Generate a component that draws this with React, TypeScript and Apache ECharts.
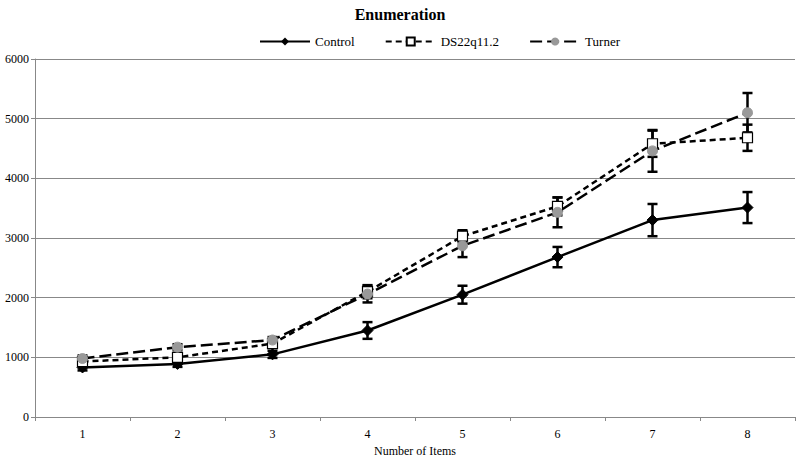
import React, { useEffect, useRef } from "react";
import * as echarts from "echarts";

const categories = ["1", "2", "3", "4", "5", "6", "7", "8"];
const controlValues = [830, 890, 1050, 1450, 2050, 2680, 3300, 3510];
const controlErr = [50, 50, 60, 140, 150, 170, 270, 260];
const dsValues = [930, 1000, 1230, 2100, 3030, 3530, 4580, 4680];
const dsErr = [50, 50, 60, 110, 100, 150, 220, 220];
const turnerValues = [980, 1170, 1290, 2060, 2870, 3430, 4460, 5100];
const turnerErr = [50, 50, 50, 140, 190, 250, 350, 330];

const FONT = "Liberation Serif";

function errorSeries(name: string, values: number[], errs: number[]) {
  return {
    type: "custom",
    name: name + "-err",
    z: 3,
    data: values.map((v, i) => [i, v - errs[i], v + errs[i]]),
    renderItem: (params: any, api: any) => {
      const x = api.value(0);
      const lo = api.coord([x, api.value(1)]);
      const hi = api.coord([x, api.value(2)]);
      const hw = 5;
      const style = { stroke: "#000", lineWidth: 2.5 };
      return {
        type: "group",
        children: [
          { type: "line", shape: { x1: lo[0], y1: lo[1], x2: hi[0], y2: hi[1] }, style },
          { type: "line", shape: { x1: lo[0] - hw, y1: lo[1], x2: lo[0] + hw, y2: lo[1] }, style },
          { type: "line", shape: { x1: hi[0] - hw, y1: hi[1], x2: hi[0] + hw, y2: hi[1] }, style },
        ],
      };
    },
    encode: { x: 0, y: [1, 2] },
    silent: true,
  };
}

export default function App() {
  const ref = useRef<HTMLDivElement>(null);
  useEffect(() => {
    document.body.style.margin = "0";
    if (!ref.current) return;
    const chart = echarts.init(ref.current, null, { renderer: "svg" });
    chart.setOption({
      animation: false,
      backgroundColor: "#fff",
      textStyle: { fontFamily: FONT },
      title: {
        text: "Enumeration",
        left: "center",
        top: 1,
        textStyle: { fontFamily: FONT, fontSize: 16, fontWeight: "bold", color: "#000" },
      },
      legend: {
        top: 30,
        left: 254,
        itemWidth: 50,
        itemHeight: 10,
        itemGap: 30,
        textStyle: { fontFamily: FONT, fontSize: 13, color: "#000" },
        data: ["Control", "DS22q11.2", "Turner"],
      },
      grid: { left: 35, right: 5, top: 59, bottom: 43, containLabel: false },
      xAxis: {
        type: "category",
        data: categories,
        boundaryGap: true,
        name: "Number of Items",
        nameLocation: "middle",
        nameGap: 28,
        nameTextStyle: { fontFamily: FONT, fontSize: 12, color: "#000" },
        axisLine: { lineStyle: { color: "#888", width: 1 } },
        axisTick: { show: true, alignWithLabel: false, length: 4, lineStyle: { color: "#888" } },
        axisLabel: { fontFamily: FONT, fontSize: 12, color: "#000", margin: 11 },
      },
      yAxis: {
        type: "value",
        min: 0,
        max: 6000,
        interval: 1000,
        axisLine: { show: true, lineStyle: { color: "#888", width: 1 } },
        axisTick: { show: true, length: 4, lineStyle: { color: "#888" } },
        axisLabel: {
          fontFamily: FONT,
          fontSize: 12,
          color: "#000",
          margin: 6,
          formatter: (v: number) => String(v),
        },
        splitLine: { show: true, lineStyle: { color: "#888", width: 1 } },
      },
      series: [
        errorSeries("Control", controlValues, controlErr),
        errorSeries("DS22q11.2", dsValues, dsErr),
        errorSeries("Turner", turnerValues, turnerErr),
        {
          name: "Control",
          type: "line",
          data: controlValues,
          z: 5,
          symbol: "diamond",
          symbolSize: 11,
          itemStyle: { color: "#000", borderColor: "#000" },
          lineStyle: { color: "#000", width: 2.5, type: "solid" },
        },
        {
          name: "DS22q11.2",
          type: "line",
          data: dsValues,
          z: 5,
          symbol: "rect",
          symbolSize: 10,
          itemStyle: { color: "#fff", borderColor: "#000", borderWidth: 1.2 },
          lineStyle: { color: "#000", width: 2.5, type: [6, 4] },
        },
        {
          name: "Turner",
          type: "line",
          data: turnerValues,
          z: 5,
          symbol: "circle",
          symbolSize: 10,
          itemStyle: { color: "#999", borderColor: "#999" },
          lineStyle: { color: "#000", width: 2.5, type: [12, 5] },
        },
      ],
    });
    return () => chart.dispose();
  }, []);
  return <div ref={ref} style={{ width: 800, height: 462 }} />;
}
